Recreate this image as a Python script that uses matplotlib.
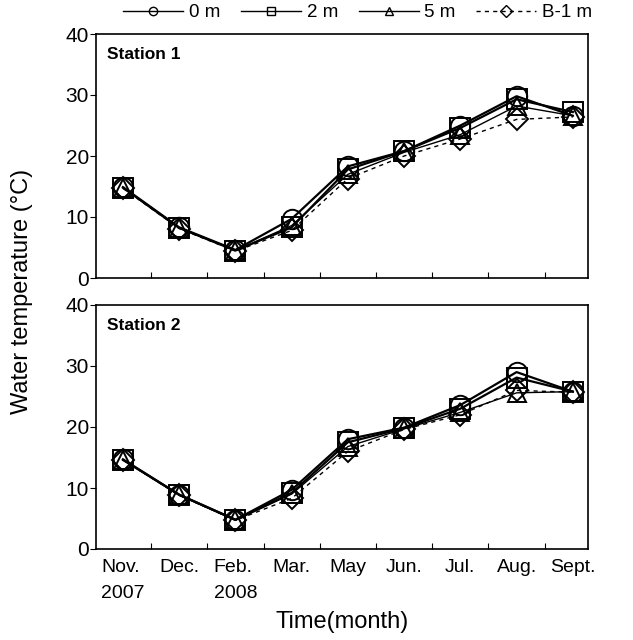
import matplotlib.pyplot as plt
from matplotlib.lines import Line2D

months = ["Nov.\n2007", "Dec.", "Feb.\n2008", "Mar.", "May", "Jun.", "Jul.", "Aug.", "Sept."]
depths = ["0 m", "2 m", "5 m", "B-1 m"]

# station 1 temperatures (deg C) by depth
st1_0m = [14.9, 8.3, 4.6, 9.7, 18.3, 20.8, 25.0, 29.8, 26.6]
st1_2m = [14.8, 8.2, 4.5, 8.3, 17.8, 20.8, 24.6, 29.3, 27.2]
st1_5m = [14.8, 8.2, 4.5, 8.6, 17.0, 20.6, 23.5, 28.2, 26.6]
st1_b1 = [14.7, 8.1, 4.4, 7.8, 16.3, 20.0, 22.8, 26.0, 26.4]

# station 2 temperatures (deg C) by depth
st2_0m = [14.7, 8.9, 4.8, 9.7, 18.0, 19.9, 23.6, 29.0, 25.8]
st2_2m = [14.6, 8.9, 4.8, 9.2, 17.5, 19.8, 23.0, 28.1, 25.8]
st2_5m = [14.6, 8.8, 4.7, 9.0, 16.8, 19.7, 22.4, 25.6, 25.8]
st2_b1 = [14.6, 8.8, 4.7, 8.3, 16.0, 19.6, 22.0, 26.0, 25.7]

stations = [
    ("Station 1", [st1_0m, st1_2m, st1_5m, st1_b1]),
    ("Station 2", [st2_0m, st2_2m, st2_5m, st2_b1]),
]

markers = ["o", "s", "^", "D"]
styles = ["-", "-", "-", (0, (3, 3))]
widths = [1.6, 1.6, 1.0, 1.0]
sizes = [14, 14, 13, 11]

plt.rcParams["font.family"] = ["Liberation Sans", "DejaVu Sans"]

fig = plt.figure(figsize=(6.33, 6.4), dpi=100)
ax1 = fig.add_axes([96 / 633, 1 - 278 / 640, 492 / 633, 244 / 640])
ax2 = fig.add_axes([96 / 633, 1 - 549 / 640, 492 / 633, 244 / 640])

x = list(range(len(months)))
for ax, (name, series) in zip([ax1, ax2], stations):
    for vals, m, ls, lw, ms in zip(series, markers, styles, widths, sizes):
        ax.plot(x, vals, color="black", linestyle=ls, linewidth=lw,
                marker=m, markersize=ms, markerfacecolor="none",
                markeredgecolor="black", markeredgewidth=1.4)
    ax.set_xlim(-0.48, 8.27)
    ax.set_ylim(0, 40)
    ax.set_yticks([0, 10, 20, 30, 40])
    ax.tick_params(axis="y", direction="out", length=4, labelsize=15, pad=1)
    ax.set_xticks([i + 0.5 for i in range(len(months) - 1)])
    ax.set_xticks(x, minor=True)
    ax.tick_params(axis="x", which="major", direction="in", length=4, labelbottom=False)
    ax.tick_params(axis="x", which="minor", length=0)
    ax.text(0.022, 0.945, name, transform=ax.transAxes, fontsize=12.5,
            fontweight="bold", va="top", ha="left")
    for s in ax.spines.values():
        s.set_linewidth(1.2)

ax2.set_xticklabels(months, minor=True)
ax2.tick_params(axis="x", which="minor", labelbottom=True, labelsize=14, pad=7)
for lab in ax2.get_xticklabels(minor=True):
    lab.set_horizontalalignment("center")
    lab.set_multialignment("left")
    lab.set_linespacing(1.75)

ax2.set_xlabel("Time(month)", fontsize=17, labelpad=6)
fig.text(0.035, 1 - 291 / 640, "Water temperature (°C)", rotation=90,
         fontsize=17, va="center", ha="center")

handles = [Line2D([0], [0], color="black", linestyle=ls, linewidth=1.0,
                  marker=m, markersize=6, markerfacecolor="none",
                  markeredgecolor="black")
           for m, ls in zip(markers, styles)]
fig.legend(handles, depths, loc="upper center", bbox_to_anchor=(0.565, 1.02),
           ncol=4, frameon=False, fontsize=13.5, handlelength=3.2,
           columnspacing=1.1, handletextpad=0.3)

fig.savefig("out.png", dpi=100)
